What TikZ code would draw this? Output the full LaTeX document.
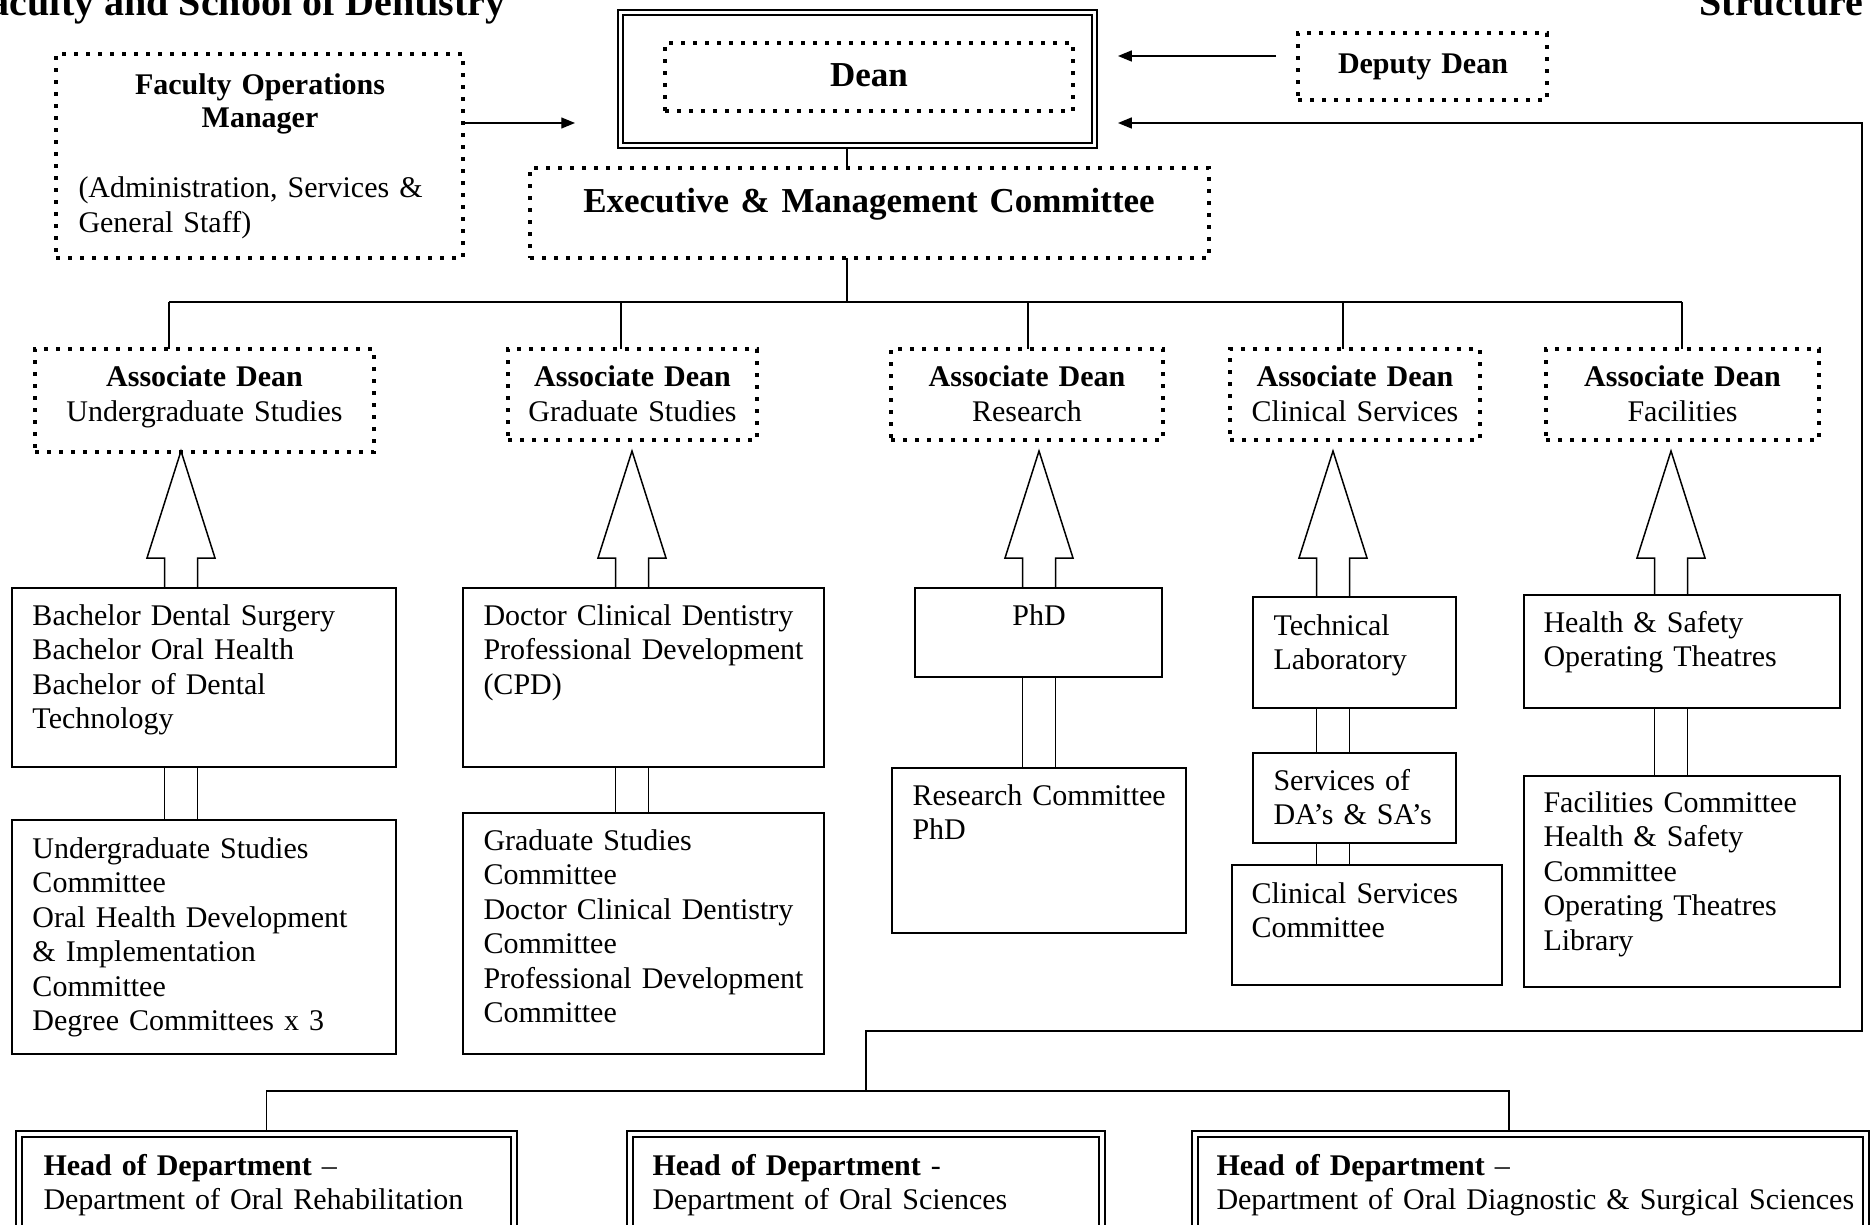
\documentclass[tikz,border=0pt]{standalone}
\usepackage{fontspec}
\setmainfont{Liberation Serif}
\usetikzlibrary{calc}
\usetikzlibrary{fit}
\usetikzlibrary{arrows.meta}
\tikzset{%
    body/.style={inner sep=0pt,outer sep=0pt,shape=rectangle,draw,line width=0.6pt},
    dotted body/.style={inner sep=0pt,outer sep=0pt,shape=rectangle,draw,line width=1.4pt,dash pattern=on 1.6pt off 3.2pt},
    heavy body/.style={inner sep=0pt,outer sep=0pt,shape=rectangle,draw,line width=1.1pt},
    txt/.style={inner sep=0pt,anchor=base west,align=left,text width=280pt,font=\fontsize{12}{13.8}\selectfont},
    ctxt/.style={inner sep=0pt,anchor=base,align=center,text width=300pt,font=\fontsize{12}{13.8}\selectfont},
    link/.style={line width=0.5pt},
    bus/.style={line width=0.8pt},
    hollow arrow/.style={line width=0.6pt,line join=miter},
}

\begin{document}
\begin{tikzpicture}[x=0.4pt,y=-0.4pt,>={Triangle[length=5.5pt,width=4.4pt]}]
        \useasboundingbox (0,0) rectangle (1873,1225);

        % heading, cut by the page edge as in the original
        \node[inner sep=0pt,anchor=base east,font=\fontsize{16}{19}\bfseries\selectfont] (title) at (506,16) {Faculty and School of Dentistry};
        \node[inner sep=0pt,anchor=base west,font=\fontsize{16}{19}\bfseries\selectfont] (struct) at (1699,16) {Structure};

        % top level
        \node[dotted body,fit={(56,54) (463,258)}] (fom) {};
        \node[ctxt,font=\fontsize{12}{13.2}\bfseries\selectfont] (fomhead) at (260,95) {Faculty Operations\\Manager};
        \node[txt] (fomstaff) at (78,198) {(Administration, Services \&\\General Staff)};

        \node[heavy body,fit={(618,10) (1097,148)}] (dean) {};
        \draw[line width=0.5pt] ([shift={(5,5)}]dean.north west) rectangle ([shift={(-5,-5)}]dean.south east);
        \node[dotted body,fit={(665,43) (1073,111)}] (deanin) {};
        \node[ctxt,font=\fontsize{14}{16}\bfseries\selectfont] (deanlbl) at (869,87) {Dean};

        \node[dotted body,fit={(1298,33) (1547,100)}] (deputy) {};
        \node[ctxt,font=\fontsize{12}{13.8}\bfseries\selectfont] (deputylbl) at (1423,74) {Deputy Dean};

        \node[dotted body,fit={(530,168) (1209,258)}] (exec) {};
        \node[ctxt,font=\fontsize{14}{16}\bfseries\selectfont] (execlbl) at (869,213) {Executive \& Management Committee};

        \coordinate (fomtip) at (575,123);
        \coordinate (deptail) at (1276,56);
        \coordinate (deptip) at (1118,56);
        \coordinate (fbtip) at (1118,123);
        \coordinate (fbcorner) at (1862,1031);
        \coordinate (hodbus) at (866,1091);
        \coordinate (hod3drop) at (1509,1091);
        \coordinate (trunk) at (847,302);

        \draw[->,link] (fom.east |- fomtip) -- (fomtip);
        \draw[->,link] (deptail) -- (deptip);
        \draw[link] (dean.south -| trunk) -- (exec.north -| trunk);
        \draw[link] (exec.south -| trunk) -- (trunk);

        % associate deans
        \node[dotted body,fit={(35,349) (374,452)}] (ad1) {};
        \node[dotted body,fit={(508,349) (757,440)}] (ad2) {};
        \node[dotted body,fit={(891,349) (1163,440)}] (ad3) {};
        \node[dotted body,fit={(1230,349) (1480,440)}] (ad4) {};
        \node[dotted body,fit={(1546,349) (1819,440)}] (ad5) {};
        \node[ctxt] (ad1lbl) at (204.5,387) {\textbf{Associate Dean}\\Undergraduate Studies};
        \node[ctxt] (ad2lbl) at (632.5,387) {\textbf{Associate Dean}\\Graduate Studies};
        \node[ctxt] (ad3lbl) at (1027,387) {\textbf{Associate Dean}\\Research};
        \node[ctxt] (ad4lbl) at (1355,387) {\textbf{Associate Dean}\\Clinical Services};
        \node[ctxt] (ad5lbl) at (1682.5,387) {\textbf{Associate Dean}\\Facilities};

        \coordinate (bus1) at (169,302);
        \coordinate (bus2) at (621,302);
        \coordinate (bus3) at (1028,302);
        \coordinate (bus4) at (1343,302);
        \coordinate (bus5) at (1682,302);
        \draw[bus] (bus1) -- (bus5);
        \draw[link] (bus1) -- (ad1.north -| bus1);
        \draw[link] (bus2) -- (ad2.north -| bus2);
        \draw[link] (bus3) -- (ad3.north -| bus3);
        \draw[link] (bus4) -- (ad4.north -| bus4);
        \draw[link] (bus5) -- (ad5.north -| bus5);

        % programmes and committees
        \node[body,fit={(12,588) (396,767)}] (bach) {};
        \node[txt] (bachlbl) at (32,625) {Bachelor Dental Surgery\\Bachelor Oral Health\\Bachelor of Dental\\Technology};
        \node[body,fit={(12,820) (396,1054)}] (ugsc) {};
        \node[txt] (ugsclbl) at (32,858) {Undergraduate Studies\\Committee\\Oral Health Development\\\& Implementation\\Committee\\Degree Committees x 3};

        \node[body,fit={(463,588) (824,767)}] (dcd) {};
        \node[txt] (dcdlbl) at (483,625) {Doctor Clinical Dentistry\\Professional Development\\(CPD)};
        \node[body,fit={(463,813) (824,1054)}] (gsc) {};
        \node[txt] (gsclbl) at (483,850) {Graduate Studies\\Committee\\Doctor Clinical Dentistry\\Committee\\Professional Development\\Committee};

        \node[body,fit={(915,588) (1162,677)}] (phd) {};
        \node[ctxt] (phdlbl) at (1039,625) {PhD};
        \node[body,fit={(892,768) (1186,933)}] (rc) {};
        \node[txt] (rclbl) at (912,805) {Research Committee\\PhD};

        \node[body,fit={(1253,597) (1456,708)}] (tech) {};
        \node[txt] (techlbl) at (1273,635) {Technical\\Laboratory};
        \node[body,fit={(1253,753) (1456,843)}] (svc) {};
        \node[txt] (svclbl) at (1273,790) {Services of\\DA’s \& SA’s};
        \node[body,fit={(1232,865) (1502,985)}] (csc) {};
        \node[txt] (csclbl) at (1251,903) {Clinical Services\\Committee};

        \node[body,fit={(1524,595) (1840,708)}] (hsot) {};
        \node[txt] (hsotlbl) at (1543,632) {Health \& Safety\\Operating Theatres};
        \node[body,fit={(1524,776) (1840,987)}] (fc) {};
        \node[txt] (fclbl) at (1543,812) {Facilities Committee\\Health \& Safety\\Committee\\Operating Theatres\\Library};

        \coordinate (tip1) at (181,451);
        \coordinate (tip2) at (632,451);
        \coordinate (tip3) at (1039,451);
        \coordinate (tip4) at (1333,451);
        \coordinate (tip5) at (1671,451);
        \foreach \t/\b in {tip1/bach,tip2/dcd,tip3/phd,tip4/tech,tip5/hsot}
            \draw[hollow arrow] ($(\b.north -| \t)+(-16.5,0)$) |- ($(\t)+(-34,107)$) -- (\t) -- ($(\t)+(34,107)$) -| ($(\b.north -| \t)+(16.5,0)$);
        \foreach \t/\a/\b in {tip1/bach/ugsc,tip2/dcd/gsc,tip3/phd/rc,tip4/tech/svc,tip4/svc/csc,tip5/hsot/fc}{
            \draw[hollow arrow] ($(\a.south -| \t)+(-16.5,0)$) -- ($(\b.north -| \t)+(-16.5,0)$);
            \draw[hollow arrow] ($(\a.south -| \t)+(16.5,0)$) -- ($(\b.north -| \t)+(16.5,0)$);
        }

        % heads of department
        \node[heavy body,fit={(16,1131) (517,1250)}] (hod1) {};
        \draw[line width=0.5pt] ([shift={(6,6)}]hod1.north west) rectangle ([shift={(-6,-6)}]hod1.south east);
        \node[txt] (hod1lbl) at (43,1175) {\textbf{Head of Department} –\\Department of Oral Rehabilitation};
        \node[heavy body,fit={(627,1131) (1105,1250)}] (hod2) {};
        \draw[line width=0.5pt] ([shift={(6,6)}]hod2.north west) rectangle ([shift={(-6,-6)}]hod2.south east);
        \node[txt] (hod2lbl) at (652,1175) {\textbf{Head of Department} -\\Department of Oral Sciences};
        \node[heavy body,fit={(1192,1131) (1869,1250)}] (hod3) {};
        \draw[line width=0.5pt] ([shift={(6,6)}]hod3.north west) rectangle ([shift={(-6,-6)}]hod3.south east);
        \node[txt] (hod3lbl) at (1216,1175) {\textbf{Head of Department} –\\Department of Oral Diagnostic \& Surgical Sciences};

        \draw[link] (hod1.north) |- (hodbus) -- (hod3drop) -- (hod3.north -| hod3drop);
        \draw[->,link] (hodbus) |- (fbcorner) |- (fbtip);
    \end{tikzpicture}
\end{document}
